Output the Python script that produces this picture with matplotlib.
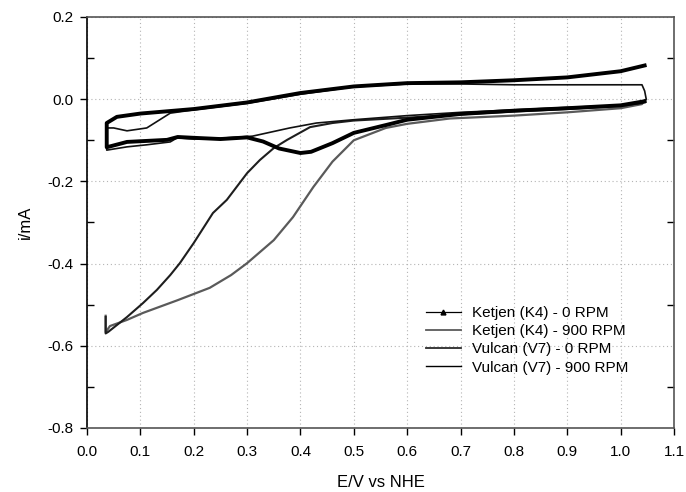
import matplotlib
matplotlib.use("Agg")
import matplotlib.pyplot as plt
from matplotlib.lines import Line2D
from matplotlib.ticker import MultipleLocator

plt.rcParams['font.family'] = ['Liberation Sans', 'DejaVu Sans']

# Ketjen (K4) - 0 RPM : cathodic sweep then anodic sweep
k0_E = [1.045, 1.0, 0.9, 0.8, 0.7, 0.6, 0.56, 0.5, 0.46, 0.42, 0.4, 0.36, 0.33, 0.3,
        0.25, 0.2, 0.17, 0.15, 0.075, 0.037,
        0.037, 0.056, 0.1, 0.2, 0.3, 0.4, 0.5, 0.6, 0.7, 0.8, 0.9, 1.0, 1.045]
k0_i = [-0.005, -0.015, -0.022, -0.028, -0.036, -0.05, -0.063, -0.082, -0.107, -0.128, -0.131, -0.12, -0.103, -0.093,
        -0.097, -0.094, -0.092, -0.099, -0.104, -0.117,
        -0.058, -0.043, -0.035, -0.024, -0.008, 0.015, 0.031, 0.039, 0.041, 0.046, 0.053, 0.068, 0.082]

# Ketjen (K4) - 900 RPM
k9_E = [0.035, 0.035, 0.043, 0.075, 0.105, 0.17, 0.23, 0.27, 0.3, 0.35, 0.386, 0.424, 0.46,
        0.5, 0.56, 0.6, 0.68, 0.8, 0.9, 1.0, 1.04, 1.045]
k9_i = [-0.527, -0.567, -0.552, -0.537, -0.52, -0.489, -0.459, -0.428, -0.399, -0.343, -0.287, -0.214, -0.152,
        -0.1, -0.07, -0.06, -0.047, -0.04, -0.032, -0.022, -0.012, -0.003]

# Vulcan (V7) - 0 RPM
v0_E = [0.037, 0.05, 0.075, 0.112, 0.156, 0.2, 0.3, 0.4, 0.5, 0.6, 0.7, 0.8, 0.9, 1.0, 1.04,
        1.045, 1.048, 1.04, 1.0, 0.9, 0.8, 0.7, 0.6, 0.5, 0.43, 0.38, 0.31, 0.25, 0.2, 0.169,
        0.156, 0.112, 0.075, 0.037, 0.037]
v0_i = [-0.07, -0.07, -0.077, -0.07, -0.034, -0.026, -0.01, 0.012, 0.03, 0.037, 0.037, 0.035, 0.035, 0.035, 0.035,
        0.02, 0.0, -0.01, -0.015, -0.02, -0.026, -0.032, -0.04, -0.05, -0.058, -0.07, -0.09, -0.095, -0.097, -0.094,
        -0.104, -0.111, -0.116, -0.124, -0.07]

# Vulcan (V7) - 900 RPM
v9_E = [0.035, 0.035, 0.04, 0.075, 0.105, 0.131, 0.156, 0.174, 0.2, 0.236, 0.262, 0.3, 0.324, 0.35,
        0.375, 0.418, 0.46, 0.5, 0.6, 0.7, 0.8, 0.9, 1.0, 1.045]
v9_i = [-0.53, -0.57, -0.566, -0.53, -0.496, -0.464, -0.428, -0.399, -0.35, -0.277, -0.245, -0.18, -0.148, -0.119,
        -0.099, -0.068, -0.058, -0.052, -0.045, -0.037, -0.03, -0.024, -0.017, -0.008]

labels = ['Ketjen (K4) - 0 RPM', 'Ketjen (K4) - 900 RPM', 'Vulcan (V7) - 0 RPM', 'Vulcan (V7) - 900 RPM']

fig = plt.figure(figsize=(6.86, 4.92), dpi=100)
ax = fig.add_axes([0.1268, 0.1301, 0.8557, 0.8354])

ax.plot(k9_E, k9_i, color='#5a5a5a', lw=1.6)
ax.plot(v9_E, v9_i, color='#1e1e1e', lw=1.5)
ax.plot(v0_E, v0_i, color='#111111', lw=1.2)
ax.plot(k0_E, k0_i, color='black', lw=2.8)

ax.set_xlim(0.0, 1.1)
ax.set_ylim(-0.8, 0.2)
ax.xaxis.set_major_locator(MultipleLocator(0.1))
ax.yaxis.set_major_locator(MultipleLocator(0.2))
ax.yaxis.set_minor_locator(MultipleLocator(0.1))
ax.xaxis.set_major_formatter(matplotlib.ticker.FormatStrFormatter('%.1f'))
ax.yaxis.set_major_formatter(matplotlib.ticker.FormatStrFormatter('%.1f'))

ax.grid(True, which='major', color='#b4b4b4', linestyle=(0, (1, 2.5)), lw=0.8)
ax.tick_params(axis='both', which='major', direction='out', length=5, width=1, labelsize=11)
ax.tick_params(axis='x', pad=7)
ax.tick_params(axis='y', pad=5)
ax.tick_params(axis='y', which='minor', direction='in', length=5, width=1, right=True, left=True)
ax.tick_params(axis='y', which='major', right=False)

for side in ['top', 'right', 'bottom']:
    ax.spines[side].set_color('#555555')
ax.spines['left'].set_color('black')
for s in ax.spines.values():
    s.set_linewidth(1.2)

ax.set_xlabel('E/V vs NHE', fontsize=12, labelpad=12)
ax.set_ylabel('i/mA', fontsize=12, labelpad=10)

handles = [
    Line2D([], [], color='black', lw=0.9, marker='^', markersize=3.5),
    Line2D([], [], color='#5a5a5a', lw=1.3),
    Line2D([], [], color='#2a2a2a', lw=1.3),
    Line2D([], [], color='black', lw=1.0),
]
ax.legend(handles, labels, loc='upper left', bbox_to_anchor=(0.577, 0.297), frameon=False,
          fontsize=11, handlelength=2.3, handletextpad=0.7, labelspacing=0.28,
          borderpad=0, borderaxespad=0, numpoints=1)

fig.savefig('out.png', dpi=100)
